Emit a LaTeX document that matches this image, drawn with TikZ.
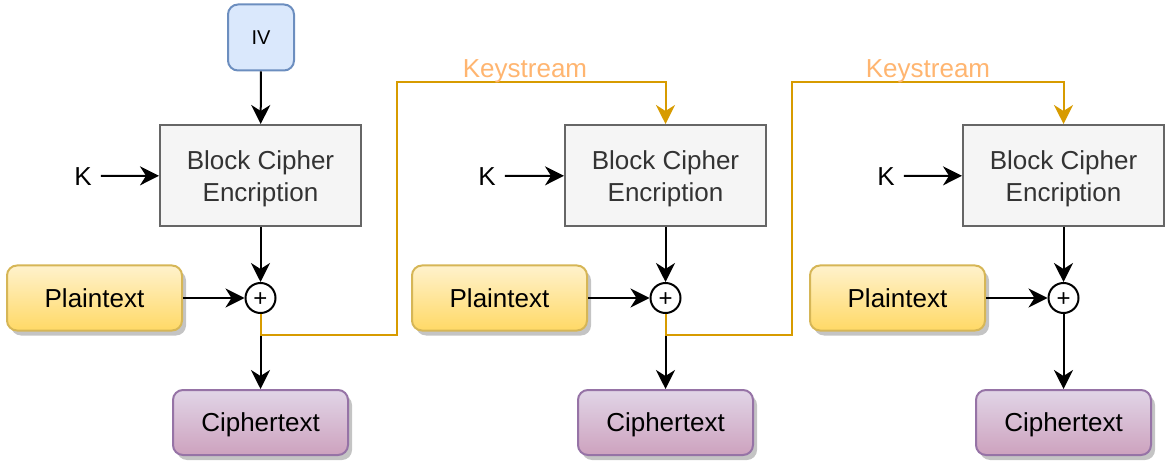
\documentclass[tikz,border=0pt]{standalone}
\usepackage{fontspec}
\setmainfont{Liberation Sans}
\usetikzlibrary{arrows.meta,shadows,calc}
\definecolor{ivfill}{HTML}{DAE8FC}
\definecolor{ivdraw}{HTML}{6C8EBF}
\definecolor{bcfill}{HTML}{F5F5F5}
\definecolor{bcdraw}{HTML}{666666}
\definecolor{bctext}{HTML}{333333}
\definecolor{pttop}{HTML}{FFF2CC}
\definecolor{ptbot}{HTML}{FFD966}
\definecolor{ptdraw}{HTML}{D6B656}
\definecolor{cttop}{HTML}{E1D5E7}
\definecolor{ctbot}{HTML}{CDA2BE}
\definecolor{ctdraw}{HTML}{9673A6}
\definecolor{ksline}{HTML}{D79B00}
\definecolor{kstext}{HTML}{FFB570}
\definecolor{shadowc}{HTML}{C4C4C4}
\begin{document}
\begin{tikzpicture}[x=1pt,y=-1pt,
  txt/.style={font=\fontsize{26}{32}\selectfont},
  oneline/.style={txt, text height=24pt, text depth=5.5pt},
  blockbox/.style={txt, draw=bcdraw, fill=bcfill, line width=2pt, text=bctext,
    minimum width=201pt, minimum height=101pt, inner sep=0pt, align=center, text height=57pt},
  ivbox/.style={draw=ivdraw, fill=ivfill, line width=2pt, rounded corners=10pt,
    minimum width=66pt, minimum height=66pt, inner sep=0pt, font=\fontsize{20}{24}\selectfont},
  shad/.style={drop shadow={shadow xshift=4pt, shadow yshift=-5pt, fill=shadowc, opacity=1}},
  ptbox/.style={oneline, shad, draw=ptdraw, top color=pttop, bottom color=ptbot, line width=2pt,
    rounded corners=10pt, minimum width=175pt, minimum height=65pt, inner sep=0pt},
  ctbox/.style={oneline, shad, draw=ctdraw, top color=cttop, bottom color=ctbot, line width=2pt,
    rounded corners=10pt, minimum width=175pt, minimum height=65pt, inner sep=0pt},
  xorc/.style={circle, draw=black, fill=white, line width=2pt, minimum size=30pt,
    inner sep=0pt, font=\fontsize{24}{24}\selectfont, text height=16.4pt, text depth=0pt},
  knode/.style={oneline, inner xsep=9pt, inner ysep=0pt},
  tipa/.tip={Stealth[length=19pt,width=19pt,inset=6pt]},
  arr/.style={line width=2pt, draw=black, -tipa},
  ks/.style={line width=2pt, draw=ksline, line join=miter},
  ksarr/.style={ks, -tipa},
  kslabel/.style={oneline, text=kstext, inner sep=0pt}
]
\useasboundingbox (0,0) rectangle (1167,470);

% column 1
\node[ivbox] (iv) at (261,37.5) {IV};
\node[blockbox] (b1) at (260.5,175.5) {Block Cipher\\Encription};
\node[knode] (k1) at (83,176) {K};
\node[xorc] (x1) at (260.5,298) {+};
\node[ptbox] (p1) at (94.5,298) {Plaintext};
\node[ctbox] (c1) at (260.5,422.5) {Ciphertext};

% column 2
\node[blockbox] (b2) at (665.5,175.5) {Block Cipher\\Encription};
\node[knode] (k2) at (487,176) {K};
\node[xorc] (x2) at (665.5,298) {+};
\node[ptbox] (p2) at (499.5,298) {Plaintext};
\node[ctbox] (c2) at (665.5,422.5) {Ciphertext};

% column 3
\node[blockbox] (b3) at (1063.5,175.5) {Block Cipher\\Encription};
\node[knode] (k3) at (886,176) {K};
\node[xorc] (x3) at (1063.5,298) {+};
\node[ptbox] (p3) at (897.5,298) {Plaintext};
\node[ctbox] (c3) at (1063.5,422.5) {Ciphertext};

% black connectors
\draw[arr] (iv) -- (b1);
\foreach \i in {1,2,3}{
  \draw[arr] (k\i) -- (b\i);
  \draw[arr] (b\i) -- (x\i);
  \draw[arr] (p\i) -- (x\i);
  \draw[arr] (x\i) -- (c\i);
}

% keystream feedback
\coordinate (a1) at (397,335);
\coordinate (a2) at (397,82);
\coordinate (a3) at (792,335);
\coordinate (a4) at (792,82);
\draw[ksarr] (x1.south) |- (a1) -- (a2) -| (b2.north);
\draw[ksarr] (x2.south) |- (a3) -- (a4) -| (b3.north);
\node[kslabel] (ks1) at (525,68.5) {Keystream};
\node[kslabel] (ks2) at (928,68.5) {Keystream};
\end{tikzpicture}
\end{document}
